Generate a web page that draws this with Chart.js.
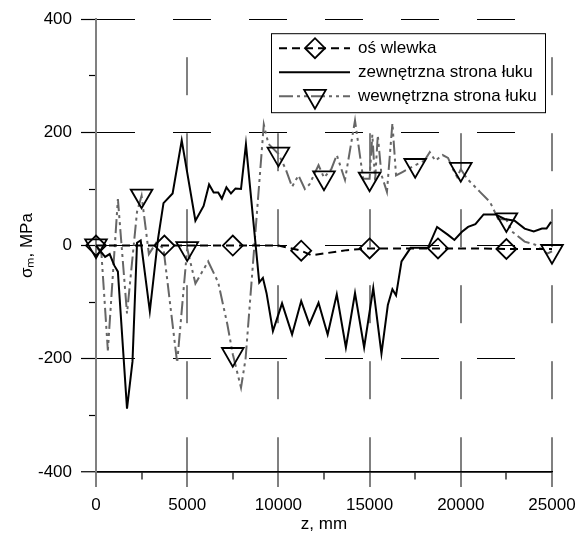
<!DOCTYPE html>
<html>
<head>
<meta charset="utf-8">
<script src="https://cdn.jsdelivr.net/npm/chart.js@4.4.1/dist/chart.umd.min.js"></script>
<style>
  html, body { margin: 0; padding: 0; background: #fff; }
  #wrap { width: 585px; height: 540px; }
</style>
</head>
<body>
<div id="wrap"><canvas id="chart" width="585" height="540"></canvas></div>
<script>
// z [mm] and sigma_m [MPa]
const zOs = [0, 3750, 7500, 10000, 11250, 11800, 12500, 13750, 15000, 16250, 17500, 18750, 20000, 21250, 22500, 23750, 25000];
const sOs = [0, 0, 0, 0, -9, -17, -14, -8, -5, -5, -5, -5, -5, -5, -6, -6, -6];

const zZew = [0, 500, 750, 1000, 1200, 1700, 2000, 2250, 2450, 2950, 3400, 3700, 4200, 4700, 5450, 5900,
  6200, 6450, 6700, 6900, 7150, 7400, 7650, 7950, 8220, 8950, 9150, 9350, 9700, 10200, 10750, 11250,
  11700, 12200, 12700, 13200, 13700, 14200, 14700, 15200, 15650, 16000, 16250, 16450, 16750, 17250,
  18200, 18700, 19300, 19650, 20050, 20400, 20800, 21250, 21900, 22400, 22950, 23500, 24000, 24450,
  24700, 24950];
const sZew = [0, -20, -15, -35, -46, -288, -205, 5, 9, -116, 12, 75, 92, 186, 44, 70,
  108, 94, 94, 83, 103, 92, 101, 100, 179, -65, -57, -84, -151, -102, -157, -98,
  -139, -101, -157, -86, -180, -84, -180, -75, -191, -105, -77, -88, -28, -4,
  -4, 33, 19, 10, 24, 33, 38, 55, 55, 47, 44, 30, 25, 30,
  30, 42];

const zWew = [0, 300, 650, 1200, 1700, 2250, 2500, 2900, 3300, 3700, 4450, 5000, 5450, 6150, 6700, 7200,
  7500, 7950, 8200, 9200, 9450, 10000, 10400, 10750, 11100, 11450, 11700, 12200, 12500, 12900, 13200,
  13650, 14200, 14650, 15000, 15150, 15300, 15450, 15650, 15950, 16250, 16450, 16800, 17500, 18000,
  18300, 18600, 19000, 19300, 19600, 19800, 20000, 20350, 21050, 21600, 22050, 22500, 22800, 23500,
  24050, 24750, 25000];
const sWew = [0, -15, -185, 82, -120, 60, 88, -15, 5, -5, -207, -5, -67, -28, -65, -139,
  -192, -251, -200, 214, 180, 162, 135, 104, 124, 100, 108, 142, 120, 135, 160,
  116, 221, 118, 118, 196, 115, 195, 125, 95, 216, 124, 130, 142, 150,
  165, 150, 160, 155, 133, 121, 135, 118, 95, 77, 47, 46, 25, 7,
  2, -14, -10];

const seriesNames = ['oś wlewka', 'zewnętrzna strona łuku', 'wewnętrzna strona łuku'];
const osMarkStep = 3750;   // diamonds every 3750 mm
const wewMarkStep = 2500;  // triangles every 2500 mm

const FONT = "'Liberation Sans', Arial, sans-serif";

function toPoints(zs, vals) {
  return zs.map((z, i) => ({ x: z, y: vals[i] }));
}

function markEvery(step, r) {
  return c => (c.raw && c.raw.x % step === 0 ? r : 0);
}

const tickVal = c => (c.tick ? c.tick.value : NaN);

// boxed legend: line sample with marker, as in the original
const boxLegend = {
  id: 'boxLegend',
  afterDraw(chart) {
    const { ctx, chartArea } = chart;
    const left = chartArea.right - 281;
    const top = chartArea.top + 14;
    ctx.save();
    ctx.fillStyle = '#fff';
    ctx.fillRect(left, top, 274, 79);
    ctx.strokeStyle = '#000';
    ctx.lineWidth = 1;
    ctx.strokeRect(left + 0.5, top + 0.5, 274, 79);

    chart.data.datasets.forEach((ds, i) => {
      const y = top + 15 + i * 24;
      ctx.beginPath();
      ctx.setLineDash(ds.borderDash || []);
      ctx.strokeStyle = ds.borderColor;
      ctx.lineWidth = ds.borderWidth;
      ctx.moveTo(left + 8, y);
      ctx.lineTo(left + 79, y);
      ctx.stroke();
      ctx.setLineDash([]);

      if (ds.markerSize) {
        ctx.fillStyle = 'rgba(0,0,0,0)';
        ctx.strokeStyle = ds.pointBorderColor;
        ctx.lineWidth = ds.pointBorderWidth;
        Chart.helpers.drawPoint(ctx, {
          pointStyle: ds.pointStyle,
          rotation: ds.pointRotation || 0,
          radius: ds.markerSize,
          borderWidth: ds.pointBorderWidth
        }, left + 44, y);
      }

      ctx.fillStyle = '#000';
      ctx.font = '17px ' + FONT;
      ctx.textBaseline = 'middle';
      ctx.textAlign = 'left';
      ctx.fillText(ds.label, left + 87, y);
    });
    ctx.restore();
  }
};

new Chart(document.getElementById('chart'), {
  type: 'line',
  data: {
    datasets: [
      {
        label: seriesNames[0],
        data: toPoints(zOs, sOs),
        borderColor: '#000',
        borderWidth: 2,
        borderDash: [8, 5],
        pointStyle: 'rectRot',
        markerSize: 10,
        pointRadius: markEvery(osMarkStep, 10),
        pointBackgroundColor: 'rgba(0,0,0,0)',
        pointBorderColor: '#000',
        pointBorderWidth: 1.8,
        clip: false
      },
      {
        label: seriesNames[1],
        data: toPoints(zZew, sZew),
        borderColor: '#000',
        borderWidth: 2,
        pointRadius: 0,
        clip: false
      },
      {
        label: seriesNames[2],
        data: toPoints(zWew, sWew),
        borderColor: '#666',
        borderWidth: 2,
        borderDash: [14, 4, 3, 4, 3, 4],
        pointStyle: 'triangle',
        pointRotation: 180,
        markerSize: 12.5,
        pointRadius: markEvery(wewMarkStep, 12.5),
        pointBackgroundColor: 'rgba(0,0,0,0)',
        pointBorderColor: '#000',
        pointBorderWidth: 1.8,
        clip: false
      }
    ]
  },
  options: {
    responsive: false,
    animation: false,
    layout: { padding: { top: 16, right: 33, left: 0, bottom: 0 } },
    plugins: {
      legend: { display: false },
      tooltip: { enabled: false }
    },
    scales: {
      x: {
        type: 'linear',
        min: 0,
        max: 25000,
        afterFit: s => { s.height = 68; },
        ticks: {
          stepSize: 2500,
          autoSkip: false,
          maxRotation: 0,
          padding: 8,
          color: '#000',
          font: { family: FONT, size: 17 },
          callback: v => (v % 5000 === 0 ? String(v) : '')
        },
        grid: {
          color: c => (tickVal(c) % 5000 === 0 ? '#808080' : 'rgba(0,0,0,0)'),
          lineWidth: 2,
          tickLength: 15,
          tickColor: c => (tickVal(c) % 5000 === 0 ? '#808080' : '#000'),
          tickWidth: c => (tickVal(c) % 5000 === 0 ? 2 : 1.2),
          tickBorderDash: c => (tickVal(c) % 5000 === 0 ? [] : [7, 100])
        },
        border: {
          color: '#000',
          width: 1.5,
          dash: c => (tickVal(c) === 0 ? [] : [38, 38]),
          dashOffset: 38
        },
        title: {
          display: true,
          text: 'z, mm',
          color: '#000',
          font: { family: FONT, size: 17 },
          padding: { top: 0, bottom: 5 }
        }
      },
      y: {
        min: -400,
        max: 400,
        afterFit: s => { s.width = 96; },
        ticks: {
          stepSize: 100,
          autoSkip: false,
          padding: 9,
          color: '#000',
          font: { family: FONT, size: 17 },
          callback: v => (v % 200 === 0 ? String(v) : '')
        },
        grid: {
          color: c => (tickVal(c) % 200 === 0 ? '#000' : 'rgba(0,0,0,0)'),
          lineWidth: c => (tickVal(c) === -400 ? 1.5 : 1),
          tickLength: 15,
          tickColor: '#000',
          tickWidth: 1.2,
          tickBorderDash: c => (tickVal(c) % 200 === 0 ? [] : [7, 8]),
          tickBorderDashOffset: c => (tickVal(c) % 200 === 0 ? 0 : 7)
        },
        border: {
          color: '#808080',
          width: 2,
          dash: c => (tickVal(c) === -400 ? [] : [38, 38]),
          dashOffset: 0
        },
        title: {
          display: true,
          text: 'σₘ, MPa',
          color: '#000',
          font: { family: FONT, size: 17 },
          padding: { top: 17, bottom: 0 }
        }
      }
    }
  },
  plugins: [boxLegend]
});
</script>
</body>
</html>
